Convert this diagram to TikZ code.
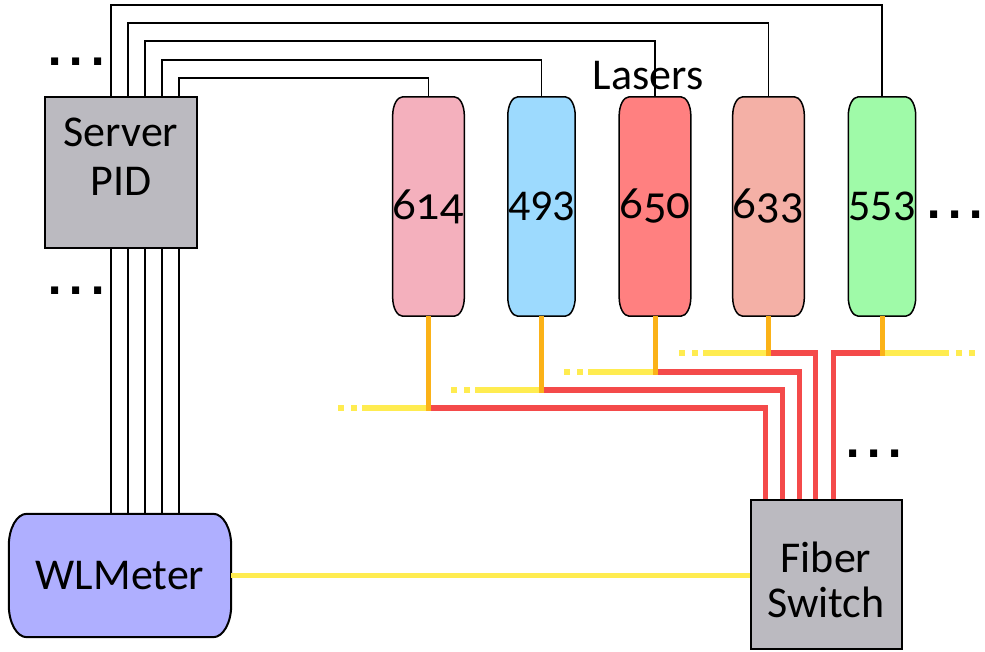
\documentclass[tikz,border=0pt]{standalone}
\usepackage{fontspec}
\setmainfont{Carlito}
\newfontfamily\oldnum[Numbers=OldStyle]{Lato}
\newfontfamily\dotfont{DejaVu Sans}
\usetikzlibrary{calc}
\pgfdeclarelayer{bg}
\pgfsetlayers{bg,main}
\definecolor{cGray}{HTML}{BBBAC0}
\definecolor{cSixOneFour}{HTML}{F4B0BD}
\definecolor{cFourNineThree}{HTML}{9DDAFE}
\definecolor{cSixFiveZero}{HTML}{FF8080}
\definecolor{cSixThreeThree}{HTML}{F4B0A6}
\definecolor{cFiveFiveThree}{HTML}{9FFAA8}
\definecolor{cWLM}{HTML}{AFAFFF}
\definecolor{cYel}{HTML}{FFEC50}
\definecolor{cOrg}{HTML}{FBB218}
\definecolor{cRed}{HTML}{F44A4A}
\newcommand\barrelpath[5]{%
  \draw[fill=#4, line width=#5] ([xshift=#2]#1.north west) -- ([xshift=-#2]#1.north east)
   arc[start angle=90, end angle=0, x radius=#2, y radius=#3]
   -- ([yshift=#3]#1.south east)
   arc[start angle=0, end angle=-90, x radius=#2, y radius=#3]
   -- ([xshift=#2]#1.south west)
   arc[start angle=270, end angle=180, x radius=#2, y radius=#3]
   -- ([yshift=-#3]#1.north west)
   arc[start angle=180, end angle=90, x radius=#2, y radius=#3]
   -- cycle;}
\begin{document}
\begin{tikzpicture}[x=1pt,y=-1pt,
 txt/.style={font=\fontsize{44}{49}\selectfont, inner sep=0pt, align=center},
 boxnode/.style={draw=black, line width=2pt, fill=cGray, inner sep=0pt},
 lasernode/.style={inner sep=0pt, minimum width=67pt, minimum height=219pt, font=\fontsize{44}{49}\selectfont},
 wire/.style={draw=black, line width=1.3pt},
 yel/.style={draw=cYel, line width=5.5pt},
 yeldash/.style={draw=cYel, line width=5.5pt, dash pattern=on 6pt off 7pt},
 redf/.style={draw=cRed, line width=5.5pt, line join=miter},
 stem/.style={draw=cOrg, line width=5pt},
 dotsnode/.style={font=\dotfont\bfseries\fontsize{40}{40}\selectfont, inner sep=0pt, anchor=base}
]
\useasboundingbox (0,0) rectangle (985,651);

% boxes
\node[boxnode, minimum width=152pt, minimum height=151pt] (srv) at (121,172.5) {};
\node[txt] (srvtxt) at (121,156.5) {Server\\PID};
\node[boxnode, minimum width=151pt, minimum height=149pt] (fsw) at (826,574.5) {};
\node[txt, font=\fontsize{44}{45}\selectfont] (fswtxt) at (826,580) {Fiber\\Switch};
\node[lasernode, minimum width=222pt, minimum height=123pt] (wlm) at (120,575.5) {WLMeter};

% lasers
\node[lasernode] (l614) at (428.5,206.5) {\oldnum 614};
\node[lasernode] (l493) at (541.5,206.5) {493};
\node[lasernode] (l650) at (655,206.5) {\oldnum 650};
\node[lasernode] (l633) at (768.5,206.5) {\oldnum 633};
\node[lasernode] (l553) at (882,206.5) {553};
\node[txt, anchor=base] (lasers) at (648,89) {Lasers};

\begin{pgfonlayer}{bg}
\barrelpath{l614}{10pt}{19pt}{cSixOneFour}{1.5pt}
\barrelpath{l493}{10pt}{19pt}{cFourNineThree}{1.5pt}
\barrelpath{l650}{10pt}{19pt}{cSixFiveZero}{1.5pt}
\barrelpath{l633}{10pt}{19pt}{cSixThreeThree}{1.5pt}
\barrelpath{l553}{10pt}{19pt}{cFiveFiveThree}{1.5pt}
\barrelpath{wlm}{18pt}{32pt}{cWLM}{2pt}
\end{pgfonlayer}

% control wires server -> lasers
\draw[wire] ($(srv.north west)+(67,0)$) -- ++(0,-91) -| (l553.north);
\draw[wire] ($(srv.north west)+(84,0)$) -- ++(0,-73) -| (l633.north);
\draw[wire] ($(srv.north west)+(101,0)$) -- ++(0,-55) -| (l650.north);
\draw[wire] ($(srv.north west)+(118,0)$) -- ++(0,-36) -| (l493.north);
\draw[wire] ($(srv.north west)+(135,0)$) -- ++(0,-18) -| (l614.north);

% server -> wavelength meter
\foreach \dx [count=\i] in {67,84,101,118,135} {
  \path ($(srv.south west)+(\dx,0)$) coordinate (d\i);
  \draw[wire] (d\i) -- (d\i |- wlm.north);
}

% fibre junctions
\coordinate (j614) at (l614.south |- 0,408);
\coordinate (j493) at (l493.south |- 0,390);
\coordinate (j650) at (l650.south |- 0,372);
\coordinate (j633) at (l633.south |- 0,353);
\coordinate (j553) at (l553.south |- 0,353);
\coordinate (e614a) at (338,408); \coordinate (e614b) at (363,408);
\coordinate (e493a) at (451,390); \coordinate (e493b) at (476,390);
\coordinate (e650a) at (564,372); \coordinate (e650b) at (589,372);
\coordinate (e633a) at (679,353); \coordinate (e633b) at (704,353);
\coordinate (e553a) at (949,353); \coordinate (e553b) at (956,353); \coordinate (e553c) at (977,353);

% yellow fibres
\draw[yeldash] (e614a) -- (e614b);
\draw[yel] ([xshift=-1pt]e614b) -- (j614);
\draw[yeldash] (e493a) -- (e493b);
\draw[yel] ([xshift=-1pt]e493b) -- (j493);
\draw[yeldash] (e650a) -- (e650b);
\draw[yel] ([xshift=-1pt]e650b) -- (j650);
\draw[yeldash] (e633a) -- (e633b);
\draw[yel] ([xshift=-1pt]e633b) -- (j633);
\draw[yel] (j553) -- (e553a);
\draw[yeldash] (e553b) -- (e553c);

% red fibres to the switch
\draw[redf] (j614) -| ($(fsw.north west)+(16,0)$);
\draw[redf] (j493) -| ($(fsw.north west)+(33,0)$);
\draw[redf] (j650) -| ($(fsw.north west)+(50,0)$);
\draw[redf] (j633) -| ($(fsw.north west)+(66,0)$);
\draw[redf] (j553) -| ($(fsw.north west)+(84,0)$);

% orange stems
\draw[stem] (l614.south) -- ([yshift=-3pt]j614);
\draw[stem] (l493.south) -- ([yshift=-3pt]j493);
\draw[stem] (l650.south) -- ([yshift=-3pt]j650);
\draw[stem] (l633.south) -- ([yshift=-3pt]j633);
\draw[stem] (l553.south) -- ([yshift=-3pt]j553);

% switch -> wavelength meter
\draw[yel] (wlm.east) -- (wlm.east -| fsw.west);

% ellipses
\node[dotsnode] (dotsa) at (76.5,65) {.\kern6pt.\kern6pt.};
\node[dotsnode] (dotsb) at (76.5,294) {.\kern6pt.\kern6pt.};
\node[dotsnode] (dotsc) at (955,218) {.\kern6pt.\kern6pt.};
\node[dotsnode] (dotsd) at (874,457) {.\kern6pt.\kern6pt.};
\end{tikzpicture}
\end{document}
